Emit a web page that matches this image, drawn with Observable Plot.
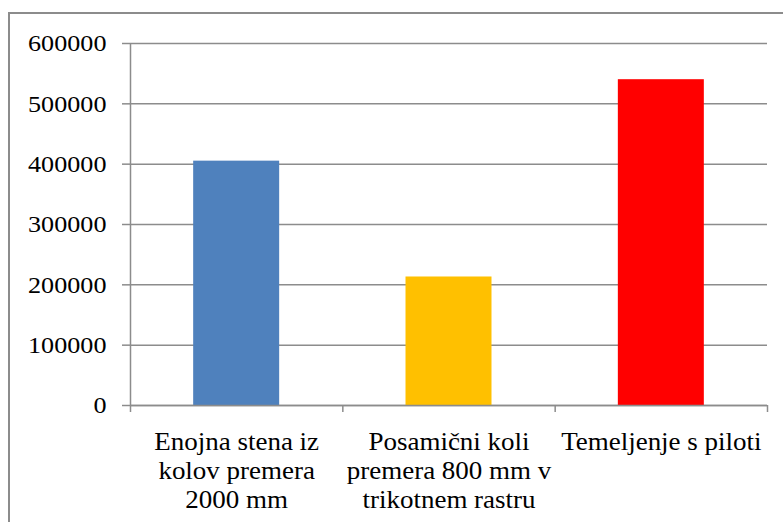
<!DOCTYPE html>
<html>
<head>
<meta charset="utf-8">
<script src="https://cdn.jsdelivr.net/npm/d3@7"></script>
<script src="https://cdn.jsdelivr.net/npm/@observablehq/plot@0.6"></script>
<style>
  html, body { margin: 0; padding: 0; background: #fff; }
  #wrap { position: relative; width: 783px; height: 522px; overflow: hidden; }
  #border { position: absolute; left: 8px; top: 12px; width: 900px; height: 600px;
            border-left: 2px solid #8c8c8c; border-top: 2px solid #8c8c8c; }
  #chart { position: absolute; left: 0; top: 0; }
</style>
</head>
<body>
<div id="wrap"><div id="border"></div><div id="chart"></div></div>
<script>
// Categories (x axis labels, with line breaks as shown under each bar)
const categories = [
  "Enojna stena iz\nkolov premera\n2000 mm",
  "Posamični koli\npremera 800 mm v\ntrikotnem rastru",
  "Temeljenje s piloti"
];
// Values for each category
const values = [405000, 213000, 540000];
// Bar colours
const colors = ["#4f81bd", "#ffc000", "#ff0000"];
// Y axis tick values
const yTicks = [0, 100000, 200000, 300000, 400000, 500000, 600000];

const serif = "Liberation Serif";
const gridColor = "#8c8c8c";
const gap = 0.2975; // empty space on each side of a bar, as a share of one category slot

const bars = categories.map((c, i) => ({ category: c, index: i, value: values[i], color: colors[i] }));
const boundaries = d3.range(categories.length + 1);

const chart = Plot.plot({
  width: 783,
  height: 522,
  marginLeft: 130,
  marginRight: 16,
  marginTop: 43,
  marginBottom: 117,
  style: { fontFamily: serif, fontSize: "25px", color: "#000", background: "transparent" },
  x: { domain: [0, categories.length], axis: null },
  y: { domain: [0, 600000], axis: null },
  marks: [
    Plot.gridY(yTicks, { stroke: gridColor, strokeOpacity: 1, strokeWidth: 1.5 }),
    Plot.axisY(yTicks, {
      anchor: "left", tickSize: 8, tickPadding: 16, stroke: gridColor, strokeWidth: 1.5,
      tickFormat: d => String(d), label: null, fontSize: 24, fontFamily: serif, fill: "#000"
    }),
    Plot.rectY(bars, {
      x1: d => d.index + gap, x2: d => d.index + 1 - gap,
      y1: 0, y2: "value", fill: "color"
    }),
    // vertical axis line
    Plot.ruleX([0], { y1: 0, y2: 600000, stroke: gridColor, strokeWidth: 1.5 }),
    // baseline and category boundary ticks hanging below it
    Plot.ruleY([0], { stroke: gridColor, strokeWidth: 1.5 }),
    Plot.ruleX(boundaries, { y1: 0, y2: 0, insetBottom: -7, stroke: gridColor, strokeWidth: 1.5 }),
    Plot.text(bars, {
      x: d => d.index + 0.5, y: () => 0, text: "category",
      lineAnchor: "top", dy: 24, fontSize: 25, fontFamily: serif, lineHeight: 1.16, fill: "#000"
    })
  ]
});

// Serif face set directly on the root and on every label.
chart.setAttribute("font-family", serif);
document.getElementById("chart").appendChild(chart);

chart.querySelectorAll("text").forEach(t => {
  t.setAttribute("font-family", serif);
  t.style.fontFamily = `"${serif}", serif`;
  // The labels are set slightly wide; stretch each one horizontally about its anchor.
  const sx = t.closest("[aria-label='y-axis tick label']") ? 1.09 : 1.08;
  t.setAttribute("transform", (t.getAttribute("transform") || "") + ` scale(${sx},1)`);
  void getComputedStyle(t).fontFamily;
  t.getBBox();
});
</script>
</body>
</html>
